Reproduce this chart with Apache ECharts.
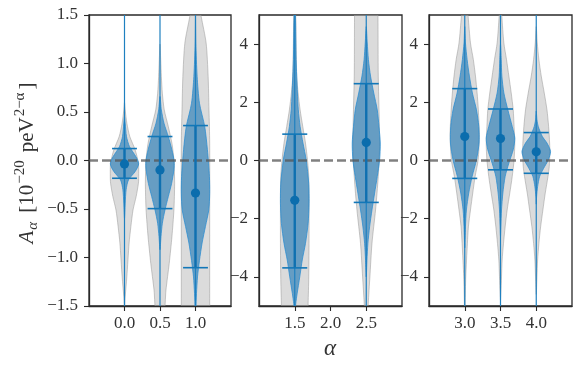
<!DOCTYPE html>
<html><head><meta charset="utf-8">
<script src="https://cdn.jsdelivr.net/npm/echarts@6/dist/echarts.min.js"></script>
<style>html,body{margin:0;padding:0;background:#fff}#c{width:581px;height:369px}</style>
</head><body><div id="c"></div>
<script>
// ---- data ----
const alphas  = [0.0, 0.5, 1.0, 1.5, 2.5, 3.0, 3.5, 4.0];
const centers = [-0.035, -0.097, -0.335, -1.37, 0.62, 0.825, 0.756, 0.297];
const lowers  = [-0.183, -0.496, -1.105, -3.69, -1.44, -0.615, -0.32, -0.44];
const uppers  = [0.123, 0.247, 0.36, 0.906, 2.64, 2.47, 1.77, 0.96];
const panelOf = [0, 0, 0, 1, 1, 2, 2, 2];

const xTicks1 = [0.0, 0.5, 1.0];
const xTicks2 = [1.5, 2.0, 2.5];
const xTicks3 = [3.0, 3.5, 4.0];
const yTicks1 = [-1.5, -1.0, -0.5, 0.0, 0.5, 1.0, 1.5];
const yTicks23 = [-4, -2, 0, 2, 4];

// violin profiles: [value, half-width in alpha units]
const gray00 = [[0.6,0],[0.52,0.01],[0.385,0.033],[0.247,0.075],[0.11,0.15],[-0.028,0.196],[-0.166,0.2],[-0.235,0.196],[-0.372,0.164],[-0.51,0.12],[-0.68,0.09],[-0.85,0.065],[-1.2,0.033],[-1.4,0.01],[-1.5,0]];
const blue00 = [[0.45,0],[0.385,0.01],[0.247,0.028],[0.144,0.07],[0.04,0.16],[-0.035,0.2],[-0.114,0.15],[-0.2,0.056],[-0.3,0.023],[-0.44,0.01],[-0.6,0]];
const gray05 = [[1.2,0],[1.04,0.01],[0.866,0.019],[0.694,0.033],[0.522,0.06],[0.35,0.117],[0.178,0.168],[0.006,0.196],[-0.235,0.206],[-0.51,0.196],[-0.785,0.168],[-1.06,0.13],[-1.335,0.084],[-1.6,0.05]];
const blue05 = [[0.66,0],[0.522,0.019],[0.385,0.056],[0.247,0.117],[0.11,0.168],[-0.011,0.2],[-0.097,0.196],[-0.235,0.164],[-0.372,0.117],[-0.51,0.07],[-0.647,0.033],[-0.785,0.014],[-0.92,0]];
const gray10 = [[1.7,0.03],[1.485,0.08],[1.21,0.15],[0.866,0.178],[0.522,0.19],[0.178,0.2],[-0.51,0.2],[-1.03,0.2],[-1.47,0.2],[-1.7,0.2]];
const blue10 = [[1.5,0],[1.21,0.005],[0.866,0.023],[0.59,0.056],[0.35,0.13],[0.11,0.168],[-0.166,0.196],[-0.337,0.2],[-0.51,0.187],[-0.68,0.14],[-0.85,0.093],[-1.03,0.056],[-1.2,0.028],[-1.37,0.014],[-1.54,0.005],[-1.7,0]];
const gray15 = [[5.5,0],[4.96,0.014],[4.04,0.019],[2.9,0.028],[2.32,0.047],[1.74,0.075],[1.17,0.112],[0.6,0.15],[0.02,0.178],[-0.55,0.196],[-1.12,0.2],[-2.85,0.2],[-4.0,0.196],[-4.92,0.187],[-5.5,0.18]];
const blue15 = [[5.3,0],[4.96,0.01],[3.47,0.019],[2.32,0.037],[1.74,0.05],[1.17,0.075],[0.6,0.115],[0.02,0.16],[-0.78,0.195],[-1.47,0.2],[-2.16,0.187],[-2.85,0.15],[-3.42,0.105],[-4.0,0.07],[-4.58,0.033],[-4.92,0.014],[-5.3,0]];
const gray25 = [[5.5,0.16],[4.96,0.164],[2.9,0.168],[0.6,0.187],[-0.55,0.168],[-1.7,0.13],[-2.85,0.08],[-4.0,0.051],[-4.92,0.028],[-5.5,0.02]];
const blue25 = [[4.6,0],[4.04,0.014],[3.47,0.03],[2.9,0.06],[2.32,0.105],[1.74,0.154],[1.17,0.178],[0.6,0.196],[0.02,0.187],[-0.55,0.154],[-1.12,0.117],[-1.7,0.08],[-2.28,0.047],[-2.85,0.023],[-3.43,0.01],[-4.0,0]];
const gray30 = [[5.5,0.03],[4.96,0.047],[4.04,0.08],[3.47,0.12],[2.9,0.15],[2.32,0.173],[1.74,0.19],[0.88,0.205],[0.02,0.187],[-0.55,0.145],[-1.12,0.112],[-1.7,0.08],[-2.28,0.051],[-2.85,0.037],[-4.0,0.014],[-4.92,0.005],[-5.5,0]];
const blue30 = [[4.6,0],[4.04,0.01],[3.47,0.033],[2.9,0.065],[2.32,0.107],[1.74,0.164],[1.17,0.196],[0.6,0.2],[0.02,0.164],[-0.55,0.103],[-1.12,0.056],[-1.7,0.023],[-2.28,0.01],[-3.0,0]];
const gray35 = [[5.5,0.01],[4.96,0.019],[4.04,0.047],[3.47,0.084],[2.9,0.117],[2.32,0.15],[1.74,0.178],[1.17,0.19],[0.6,0.2],[0.02,0.19],[-0.55,0.164],[-1.12,0.13],[-1.7,0.093],[-2.28,0.065],[-2.85,0.042],[-3.42,0.023],[-4.0,0.014],[-4.58,0.005],[-4.8,0]];
const blue35 = [[4.0,0],[3.47,0.01],[2.9,0.019],[2.32,0.047],[1.74,0.103],[1.17,0.164],[0.77,0.2],[0.37,0.178],[-0.09,0.117],[-0.55,0.065],[-1.12,0.033],[-1.7,0.014],[-2.28,0.005],[-2.6,0]];
const gray40 = [[4.6,0],[4.04,0.014],[3.47,0.037],[2.9,0.07],[2.32,0.112],[1.74,0.15],[1.17,0.173],[0.6,0.187],[0.25,0.19],[-0.21,0.182],[-0.55,0.164],[-1.12,0.126],[-1.7,0.093],[-2.28,0.061],[-2.85,0.037],[-3.42,0.019],[-4.0,0.01],[-4.6,0]];
const blue40 = [[1.7,0],[1.4,0.01],[1.17,0.028],[0.83,0.084],[0.6,0.15],[0.31,0.2],[0.02,0.168],[-0.27,0.103],[-0.55,0.047],[-0.9,0.019],[-1.24,0.005],[-1.5,0]];

const grayShapes = [gray00, gray05, gray10, gray15, gray25, gray30, gray35, gray40];
const blueShapes = [blue00, blue05, blue10, blue15, blue25, blue30, blue35, blue40];
const capHalf = 0.175;

// ---- layout ----
const grids = [
  {left: 89, top: 15, width: 142, height: 291},
  {left: 259, top: 15, width: 143, height: 291},
  {left: 429, top: 15, width: 143, height: 291}
];
const xRanges = [[-0.5, 1.5], [1.0, 3.0], [2.5, 4.5]];
const yRanges = [[-1.5, 1.5], [-5, 5], [-5, 5]];
const xTickSets = [xTicks1, xTicks2, xTicks3];
const yTickSets = [yTicks1, yTicks23, yTicks23];

const FONT = '"Liberation Serif", "DejaVu Serif", serif';
const TXT = '#333';
const fmtMinus = s => s.replace('-', '\u2212');

function violinPoints(api, x, shape) {
  const right = shape.map(p => api.coord([x + p[1], p[0]]));
  let leftSrc = shape.slice().reverse();
  if (leftSrc.length && leftSrc[0][1] === 0) leftSrc = leftSrc.slice(1);
  if (leftSrc.length && leftSrc[leftSrc.length - 1][1] === 0) leftSrc = leftSrc.slice(0, -1);
  const left = leftSrc.map(p => api.coord([x - p[1], p[0]]));
  return right.concat(left);
}

const series = [];
[0, 1, 2].forEach(g => {
  const idx = [];
  alphas.forEach((a, i) => { if (panelOf[i] === g) idx.push([a, centers[i], i]); });
  series.push({
    type: 'custom', xAxisIndex: g, yAxisIndex: g, clip: true, z: 2,
    data: idx,
    renderItem: (params, api) => {
      const i = api.value(2), x = api.value(0);
      return {type: 'group', children: [
        {type: 'polygon', shape: {points: violinPoints(api, x, grayShapes[i]), smooth: 0.25},
         style: {fill: 'rgba(175,175,175,0.45)', stroke: 'rgba(150,150,150,0.5)', lineWidth: 1}},
        {type: 'polygon', shape: {points: violinPoints(api, x, blueShapes[i]), smooth: 0.25},
         style: {fill: 'rgba(31,119,180,0.62)', stroke: 'rgba(40,140,210,0.75)', lineWidth: 1}}
      ]};
    }
  });
  series.push({
    type: 'line', xAxisIndex: g, yAxisIndex: g, z: 3, symbol: 'none', silent: true,
    data: [[xRanges[g][0], 0], [xRanges[g][1], 0]],
    lineStyle: {color: 'rgba(85,85,85,0.75)', width: 2.4, type: [9, 4]}
  });
  series.push({
    type: 'custom', xAxisIndex: g, yAxisIndex: g, clip: true, z: 4,
    data: idx,
    renderItem: (params, api) => {
      const i = api.value(2), x = api.value(0);
      const top = api.coord([x, yRanges[g][1] + 1]);
      const bot = api.coord([x, yRanges[g][0] - 1]);
      const up = api.coord([x, uppers[i]]);
      const lo = api.coord([x, lowers[i]]);
      const ul = api.coord([x - capHalf, uppers[i]]), ur = api.coord([x + capHalf, uppers[i]]);
      const ll = api.coord([x - capHalf, lowers[i]]), lr = api.coord([x + capHalf, lowers[i]]);
      const c = api.coord([x, centers[i]]);
      const thin = {stroke: '#1f80c0', lineWidth: 1.2};
      const thick = {stroke: '#0f70b0', lineWidth: 2.4};
      const cap = {stroke: '#1277b8', lineWidth: 1.6};
      return {type: 'group', children: [
        {type: 'line', shape: {x1: top[0], y1: top[1], x2: bot[0], y2: bot[1]}, style: thin},
        {type: 'line', shape: {x1: up[0], y1: up[1], x2: lo[0], y2: lo[1]}, style: thick},
        {type: 'line', shape: {x1: ul[0], y1: ul[1], x2: ur[0], y2: ur[1]}, style: cap},
        {type: 'line', shape: {x1: ll[0], y1: ll[1], x2: lr[0], y2: lr[1]}, style: cap},
        {type: 'circle', shape: {cx: c[0], cy: c[1], r: 4.6}, style: {fill: '#0b6dad'}}
      ]};
    }
  });
});

const option = {
  animation: false,
  backgroundColor: '#fff',
  grid: grids.map(gr => Object.assign({show: true, borderColor: '#2a2a2a', borderWidth: 1.3, backgroundColor: 'transparent'}, gr)),
  xAxis: [0, 1, 2].map(g => ({
    type: 'value', gridIndex: g, min: xRanges[g][0], max: xRanges[g][1], interval: 0.5,
    splitLine: {show: false},
    axisLine: {show: true, onZero: false, lineStyle: {color: '#2a2a2a', width: 1.3}},
    axisTick: {show: true, length: 5, customValues: xTickSets[g], lineStyle: {color: '#2a2a2a', width: 1.1}},
    axisLabel: {customValues: xTickSets[g], margin: 9, fontFamily: FONT, fontSize: 17, color: TXT,
      formatter: v => v.toFixed(1)}
  })),
  yAxis: [0, 1, 2].map(g => ({
    type: 'value', gridIndex: g, min: yRanges[g][0], max: yRanges[g][1],
    interval: g === 0 ? 0.5 : 1,
    splitLine: {show: false},
    axisLine: {show: true, onZero: false, lineStyle: {color: '#2a2a2a', width: 1.3}},
    axisTick: {show: true, length: 5, customValues: yTickSets[g], lineStyle: {color: '#2a2a2a', width: 1.1}},
    axisLabel: {customValues: yTickSets[g], margin: 11, fontFamily: FONT, fontSize: 17, color: TXT,
      formatter: v => fmtMinus(g === 0 ? v.toFixed(1) : String(v))}
  })),
  series: series,
  graphic: [
    {type: 'text', x: 27, y: 163, rotation: Math.PI / 2, z: 10,
     style: {
       text: '{it|A}{sub|\u03b1}{n|[10}{sup|\u221220}{n|peV}{sup|2\u2212\u03b1}{br|]}',
       align: 'center', verticalAlign: 'middle', fill: TXT,
       rich: {
         it: {fontFamily: FONT, fontStyle: 'italic', fontSize: 21, lineHeight: 28, verticalAlign: 'middle', color: TXT, padding: [0, 1, 0, 0]},
         n: {fontFamily: FONT, fontSize: 21, lineHeight: 28, verticalAlign: 'middle', color: TXT, padding: [0, 0, 0, 7]},
         br: {fontFamily: FONT, fontSize: 21, lineHeight: 28, verticalAlign: 'middle', color: TXT, padding: [0, 0, 0, 2]},
         sub: {fontFamily: FONT, fontStyle: 'italic', fontSize: 15, lineHeight: 14, verticalAlign: 'bottom', color: TXT, padding: [0, 2, 0, 0]},
         sup: {fontFamily: FONT, fontSize: 15, lineHeight: 14, verticalAlign: 'top', color: TXT, padding: [0, 1, 0, 1]}
       }
     }},
    {type: 'text', x: 330, y: 349, z: 10,
     style: {text: '\u03b1', font: 'italic 23px ' + FONT, fill: TXT, align: 'center', verticalAlign: 'middle'}}
  ]
};
const chart = echarts.init(document.getElementById('c'), null, {renderer: 'canvas'});
chart.setOption(option);
</script></body></html>
